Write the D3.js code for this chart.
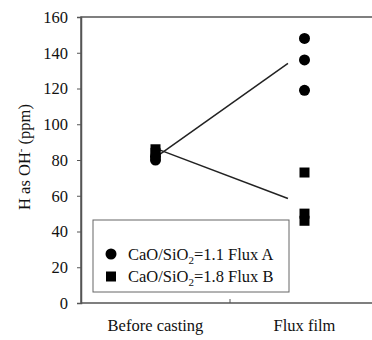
<!DOCTYPE html>
<html>
<head>
<meta charset="utf-8">
<script src="https://cdn.jsdelivr.net/npm/d3@7"></script>
<style>
  body { margin: 0; background: #fff; }
  svg text { font-family: "Liberation Serif", "Times New Roman", serif; fill: #111; }
</style>
</head>
<body>
<div id="chart"></div>
<script>
// Données
const categories = ["Before casting", "Flux film"];
const fluxA_before = [80, 82];
const fluxA_film = [148, 136, 119];
const fluxB_before = [84, 86];
const fluxB_film = [73, 50, 46];
// extrémités des lignes de tendance (début, fin)
const trendA = [81.5, 134];
const trendB = [86.5, 58.5];
const yTicks = [0, 20, 40, 60, 80, 100, 120, 140, 160];

const width = 372;
const height = 340;
const margin = { top: 17, left: 81 };
const plotW = 298;
const plotH = 286;
const serif = "Liberation Serif, Times New Roman, serif";

const svg = d3.select("#chart").append("svg")
  .attr("width", width)
  .attr("height", height);

const x = d3.scaleBand().domain(categories).range([margin.left, margin.left + plotW]);
const y = d3.scaleLinear().domain([0, 160]).range([margin.top + plotH, margin.top]);
const cx = (c) => x(c) + x.bandwidth() / 2;

// Cadre
svg.append("rect")
  .attr("x", margin.left).attr("y", margin.top)
  .attr("width", plotW).attr("height", plotH)
  .attr("fill", "none").attr("stroke", "#555").attr("stroke-width", 1.5);

// Axe Y
const yAxis = svg.append("g")
  .attr("transform", `translate(${margin.left},0)`)
  .call(d3.axisLeft(y).tickValues(yTicks).tickSize(4).tickPadding(9))
  .attr("font-family", serif)
  .attr("font-size", 16.5);
yAxis.select(".domain").attr("stroke", "#555").attr("stroke-width", 1.5);
yAxis.selectAll(".tick line").attr("stroke", "#555");
yAxis.selectAll(".tick text").attr("fill", "#111");

// Axe X : petit tick entre les catégories
svg.append("line")
  .attr("x1", x(categories[1])).attr("x2", x(categories[1]))
  .attr("y1", y(0)).attr("y2", y(0) - 4)
  .attr("stroke", "#555");

svg.selectAll(".xlab").data(categories).join("text")
  .attr("class", "xlab")
  .attr("x", (d) => cx(d))
  .attr("y", 331)
  .attr("text-anchor", "middle")
  .style("font-size", "16.5px")
  .text((d) => d);

// Titre axe Y
const yt = svg.append("text")
  .attr("transform", `translate(30,${margin.top + plotH / 2 - 3}) rotate(-90)`)
  .attr("text-anchor", "middle")
  .style("font-size", "16.5px");
yt.append("tspan").text("H as OH");
yt.append("tspan").attr("dy", -6).style("font-size", "11px").text("-");
yt.append("tspan").attr("dy", 6).text(" (ppm)");

// Lignes de tendance
const endFrac = 0.889;
function trendLine(vals) {
  const x0 = cx(categories[0]);
  const x1 = x0 + (cx(categories[1]) - x0) * endFrac;
  svg.append("line")
    .attr("x1", x0).attr("y1", y(vals[0]))
    .attr("x2", x1).attr("y2", y(vals[1]))
    .attr("stroke", "#222").attr("stroke-width", 1.5);
}
trendLine(trendA);
trendLine(trendB);

// Points
const sq = 10;
function squares(vals, cat) {
  svg.selectAll(null).data(vals).join("rect")
    .attr("x", cx(cat) - sq / 2)
    .attr("y", (d) => y(d) - sq / 2)
    .attr("width", sq).attr("height", sq)
    .attr("fill", "#000");
}
function circles(vals, cat) {
  svg.selectAll(null).data(vals).join("circle")
    .attr("cx", cx(cat))
    .attr("cy", (d) => y(d))
    .attr("r", 5.5)
    .attr("fill", "#000");
}
circles(fluxA_before, categories[0]);
squares(fluxB_before, categories[0]);
circles(fluxA_film, categories[1]);
squares(fluxB_film, categories[1]);

// Légende
const lg = svg.append("g").attr("transform", "translate(93,220)");
lg.append("rect")
  .attr("width", 196).attr("height", 72)
  .attr("fill", "#fff").attr("stroke", "#666").attr("stroke-width", 1);

const legendItems = [
  { shape: "circle", ratio: "1.1", flux: "Flux A" },
  { shape: "square", ratio: "1.8", flux: "Flux B" }
];
legendItems.forEach((d, i) => {
  const yy = 34 + i * 22.5;
  if (d.shape === "circle") {
    lg.append("circle").attr("cx", 18).attr("cy", yy).attr("r", 5.5).attr("fill", "#000");
  } else {
    lg.append("rect").attr("x", 13).attr("y", yy - 5).attr("width", sq).attr("height", sq).attr("fill", "#000");
  }
  const t = lg.append("text").attr("x", 35).attr("y", yy + 5.5).style("font-size", "16.5px");
  t.append("tspan").text("CaO/SiO");
  t.append("tspan").attr("dy", 4).style("font-size", "11px").text("2");
  t.append("tspan").attr("dy", -4).text(`=${d.ratio} ${d.flux}`);
});
</script>
</body>
</html>
